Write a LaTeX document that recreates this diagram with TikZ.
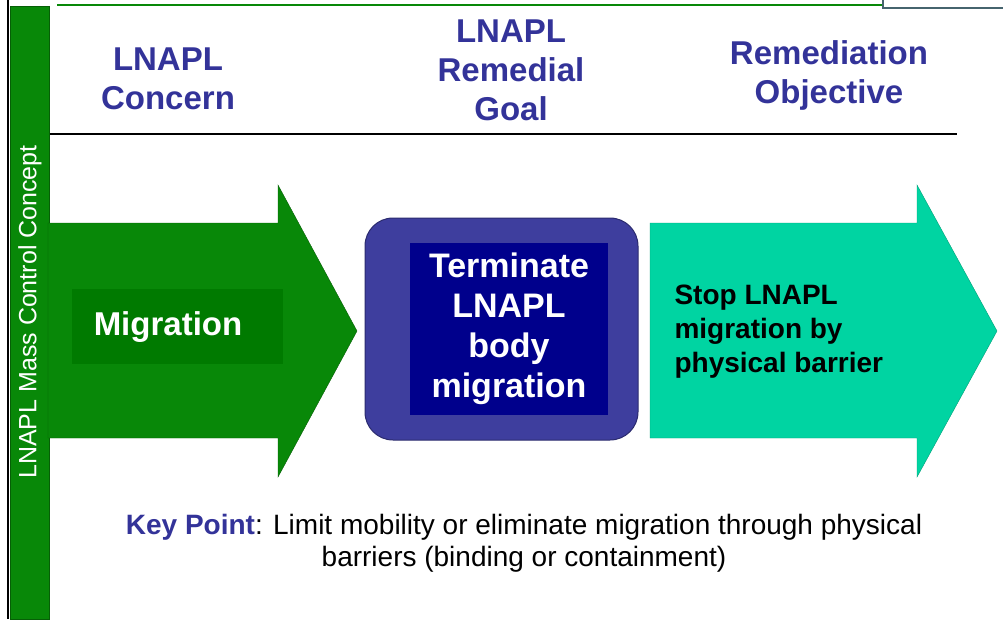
\documentclass[tikz,border=0pt]{standalone}
\usepackage{fontspec}
\setmainfont{Liberation Sans}
\usetikzlibrary{positioning}

\definecolor{headblue}{RGB}{51,51,153}
\definecolor{arrgreen}{RGB}{8,136,8}
\definecolor{darkgreen}{RGB}{0,122,0}
\definecolor{boxblue}{RGB}{62,62,158}
\definecolor{navyblue}{RGB}{0,0,140}
\definecolor{arrteal}{RGB}{0,212,162}
\definecolor{slategray}{RGB}{70,100,110}

\begin{document}
\begin{tikzpicture}[x=1pt,y=-1pt,
	head/.style={font=\bfseries\fontsize{33}{39}\selectfont, text=headblue, align=center},
	bodytext/.style={font=\bfseries\fontsize{34}{40}\selectfont, text=white, align=center}]

\useasboundingbox (0,0) rectangle (1003,619);

% frame at the left and at the top
\draw [line width=2pt] (8,0) -- (8,619);
\fill [arrgreen] (10,6) rectangle (49,619);
\draw [arrgreen!70!black] (10,6) rectangle (49,619);
\node [rotate=90, text=white, font=\fontsize{25}{28}\selectfont] (concept) at (30,312) {LNAPL Mass Control Concept};
\draw [arrgreen, line width=2.5pt] (57,5) -- (883,5);
\draw [slategray, line width=1.5pt] (883,0) -- (883,8) -- (1003,8);

% column heads
\node [head] (concern) at (168,79) {LNAPL\\Concern};
\node [head] (goal) at (511,70) {LNAPL\\Remedial\\Goal};
\node [head] (objective) at (829,75) {Remediation\\Objective};
\draw [line width=1.5pt] (50,134) -- (957,134);

% green arrow
\draw [fill=arrgreen, draw=arrgreen!70!black] (48,223) -- (278,223) -- (278,185) -- (357,331)
	-- (278,477) -- (278,438) -- (48,438) -- cycle;
\node [fill=darkgreen, minimum width=211pt, minimum height=75pt, anchor=west] (migbox) at (72,326) {};
\node [bodytext, font=\bfseries\fontsize{33}{40}\selectfont] (migration) at (168,327) {Migration};

% blue box
\node [fill=boxblue, draw=boxblue!70!black, line width=1pt, rounded corners=28pt,
	minimum width=273pt, minimum height=222pt] (goalbox) at (501.5,329) {};
\node [bodytext, fill=navyblue, minimum width=198pt, minimum height=172pt] (terminate) at (509,329)
	{Terminate\\LNAPL\\body\\migration};

% teal arrow
\draw [fill=arrteal, draw=arrteal!75!black] (650,223) -- (917,223) -- (917,185) -- (997,331)
	-- (917,477) -- (917,438) -- (650,438) -- cycle;
\node [anchor=west, align=left, font=\bfseries\fontsize{28}{34}\selectfont] (stop) at (671,332)
	{Stop LNAPL\\migration by\\physical barrier};

% key point
\node [align=center, font=\fontsize{28}{32}\selectfont] (keypoint) at (524,543)
	{\textcolor{headblue}{\bfseries Key Point}: Limit mobility or eliminate migration through physical\\
	barriers (binding or containment)};

\end{tikzpicture}
\end{document}
